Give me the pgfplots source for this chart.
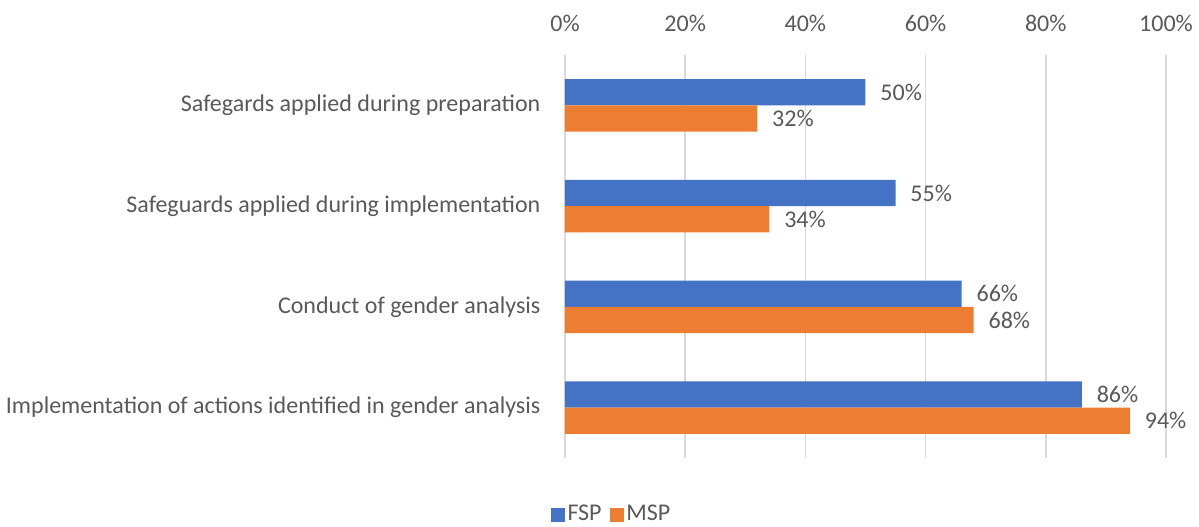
\documentclass[border=0pt]{standalone}
\usepackage{pgfplots}
\pgfplotsset{compat=1.18}
\usepackage{fontspec}
\setmainfont{Carlito}
\definecolor{fsp}{HTML}{4472C4}
\definecolor{msp}{HTML}{ED7D31}
\definecolor{txt}{HTML}{595959}
\definecolor{grd}{HTML}{D9D9D9}
\begin{document}
\fontsize{18}{21}\selectfont
\begin{tikzpicture}
  \path[use as bounding box] (-423.75pt,-51.75pt) rectangle (475.5pt,343.5pt);
  \begin{axis}[
    at={(0,0)}, anchor=south west,
    scale only axis,
    width=450.75pt, height=302.25pt,
    xbar,
    xmin=0, xmax=100,
    ymin=-0.5, ymax=3.5,
    y dir=reverse,
    ytick={0,1,2,3},
    yticklabels={Safegards applied during preparation,
      Safeguards applied during implementation,
      Conduct of gender analysis,
      Implementation of actions identified in gender analysis},
    xtick={0,20,40,60,80,100},
    xticklabel={\pgfmathprintnumber{\tick}\%},
    xticklabel pos=upper,
    xticklabel style={yshift=11pt},
    yticklabel style={xshift=-8pt},
    ticklabel style={text=txt, font=\fontsize{18}{21}\selectfont},
    /pgf/number format/assume math mode=true,
    axis line style={draw=none},
    major tick style={draw=none},
    xmajorgrids,
    major grid style={grd, line width=1.2pt},
    bar width=0.26,
    nodes near coords={\pgfmathprintnumber{\pgfplotspointmeta}\%},
    nodes near coords style={anchor=west, text=txt, font=\fontsize{18}{21}\selectfont, xshift=5pt},
    point meta=explicit symbolic,
    legend style={at={(0.078,-0.1414)}, anchor=center, draw=none,
      legend columns=2, font=\fontsize{18}{21}\selectfont, text=txt,
      /tikz/every even column/.append style={column sep=4pt}},
    legend image code/.code={\fill[#1] (0pt,-5.5pt) rectangle (10.5pt,5pt);},
  ]
    \addplot[fill=fsp, draw=none, bar shift=-0.13] coordinates {
      (50,0) [50] (55,1) [55] (66,2) [66] (86,3) [86]
    };
    \addplot[fill=msp, draw=none, bar shift=0.13] coordinates {
      (32,0) [32] (34,1) [34] (68,2) [68] (94,3) [94]
    };
    \legend{FSP, MSP}
  \end{axis}
\end{tikzpicture}
\end{document}
